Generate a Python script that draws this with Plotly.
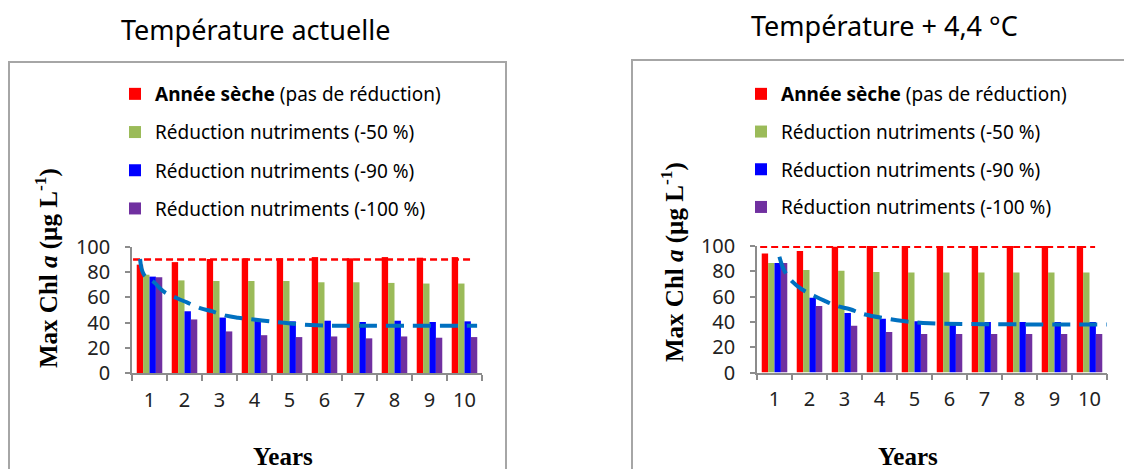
import plotly.graph_objects as go

# ---- data ----
years = [1, 2, 3, 4, 5, 6, 7, 8, 9, 10]
year_labels = ['1', '2', '3', '4', '5', '6', '7', '8', '9', '10']

series_names = ['<b>Année sèche</b> (pas de réduction)',
                'Réduction nutriments (-50 %)',
                'Réduction nutriments (-90 %)',
                'Réduction nutriments (-100 %)']
series_colors = ['#FF0000', '#9BBB59', '#0000FF', '#7030A0']

# Température actuelle
cur_dry = [86, 88, 90.5, 91, 91, 92, 91, 92, 91.5, 92]
cur_r50 = [78, 73.5, 73, 73, 73, 72, 72, 71.5, 71, 71]
cur_r90 = [76.5, 49, 44, 42.5, 41, 41.5, 40.5, 41.5, 40.5, 41]
cur_r100 = [76, 42.5, 33, 30, 28.5, 29, 27.5, 29, 28, 28.5]
cur_ref_x = [0.53, 10.21]
cur_ref_y = [90, 90]
cur_trend_x = [0.73, 0.84, 1.13, 1.41, 1.79, 2.07, 2.47, 2.76, 3.19, 3.53, 4.44, 5.59, 7.0, 10.36]
cur_trend_y = [90.5, 78, 72, 64.5, 59.3, 56, 51.3, 49.2, 45.5, 43.9, 41, 38, 37.5, 37.5]

# Température + 4,4 °C
hot_dry = [94, 96, 99.5, 100, 100, 100, 100, 100, 100, 100]
hot_r50 = [86.5, 81, 80.5, 79.5, 79, 79, 79, 79, 79, 79]
hot_r90 = [86.5, 59, 47, 42.5, 40.5, 40, 40, 40, 40, 40]
hot_r100 = [86.5, 52.5, 37, 32, 30.5, 30.5, 30.5, 30.5, 30.5, 30.5]
hot_ref_x = [0.59, 10.16]
hot_ref_y = [99.5, 99.5]
hot_trend_x = [1.14, 1.28, 1.51, 1.78, 2.14, 2.42, 2.78, 3.16, 3.54, 4.67, 5.44, 7.0, 10.5]
hot_trend_y = [91.5, 80.5, 71.8, 65.8, 60.5, 56.8, 52.6, 50, 46.2, 40.7, 38.9, 38.2, 38]

W, H = 1124, 469


def px(x):
    return x / W


def py(y):
    return (H - y) / H


fig = go.Figure()

panels = [
    dict(vals=[cur_dry, cur_r50, cur_r90, cur_r100], ref=(cur_ref_x, cur_ref_y),
         trend=(cur_trend_x, cur_trend_y), xa='x', ya='y', legend='legend', grp='l'),
    dict(vals=[hot_dry, hot_r50, hot_r90, hot_r100], ref=(hot_ref_x, hot_ref_y),
         trend=(hot_trend_x, hot_trend_y), xa='x2', ya='y2', legend='legend2', grp='r'),
]

for p in panels:
    for i, vals in enumerate(p['vals']):
        fig.add_trace(go.Bar(x=years, y=vals, name=series_names[i],
                             marker=dict(color=series_colors[i], line=dict(width=0)),
                             xaxis=p['xa'], yaxis=p['ya'], legend=p['legend'],
                             legendgroup=p['grp'] + str(i)))
    fig.add_trace(go.Scatter(x=p['ref'][0], y=p['ref'][1], mode='lines',
                             line=dict(color='#FF0000', width=2.5, dash='7px,4px'),
                             xaxis=p['xa'], yaxis=p['ya'], showlegend=False))
    fig.add_trace(go.Scatter(x=p['trend'][0], y=p['trend'][1], mode='lines',
                             line=dict(color='#0070C0', width=4, dash='18px,9px', shape='spline'),
                             xaxis=p['xa'], yaxis=p['ya'], showlegend=False))

tick_font = dict(family='Noto Sans', size=20, color='#222')
axis_col = '#8c8c8c'


def xaxis(domain, anchor):
    return dict(domain=domain, anchor=anchor, range=[0.5, 10.5], tickvals=years, ticktext=year_labels,
                ticks='', showline=True, linecolor=axis_col, linewidth=1.5, showgrid=False,
                zeroline=False, tickfont=tick_font, ticklabelstandoff=8, automargin=False,
                minor=dict(tickvals=[y - 0.5 for y in years] + [10.5], ticks='outside',
                           ticklen=6, tickcolor=axis_col, tickwidth=1.5, showgrid=False))


def yaxis(domain, anchor):
    return dict(domain=domain, anchor=anchor, range=[0, 100], dtick=20, ticks='outside',
                ticklen=5, tickcolor=axis_col, tickwidth=1.5, showline=True, linecolor=axis_col,
                linewidth=1.5, showgrid=False, zeroline=False, tickfont=tick_font,
                ticklabelstandoff=11, automargin=False)


leg_font = dict(family='Noto Sans', size=19, color='black')

title_font = dict(family='Noto Sans', size=27, color='black')
serif_font = dict(family='Liberation Serif', size=25, color='black')


def note(text, x, y, font, angle=0):
    return dict(text=text, x=px(x), y=py(y), xref='paper', yref='paper', xanchor='center',
                yanchor='middle', showarrow=False, textangle=angle, font=font)


fig.update_layout(
    width=W, height=H, margin=dict(l=0, r=0, t=0, b=0),
    paper_bgcolor='white', plot_bgcolor='white',
    barmode='group', bargap=0.27, bargroupgap=0,
    xaxis=xaxis([px(132), px(482)], 'y'),
    yaxis=yaxis([py(373), py(247)], 'x'),
    xaxis2=xaxis([px(757), px(1107)], 'y2'),
    yaxis2=yaxis([py(372.5), py(246)], 'x2'),
    legend=dict(x=px(115), y=py(75), xanchor='left', yanchor='top', font=leg_font,
                bgcolor='rgba(0,0,0,0)', tracegroupgap=10.5, traceorder='grouped'),
    legend2=dict(x=px(741), y=py(75), xanchor='left', yanchor='top', font=leg_font,
                 bgcolor='rgba(0,0,0,0)', tracegroupgap=10, traceorder='grouped'),
    shapes=[
        dict(type='rect', xref='paper', yref='paper', x0=px(9), x1=px(506), y0=-0.1, y1=py(62),
             line=dict(color='#a6a6a6', width=2), layer='below'),
        dict(type='rect', xref='paper', yref='paper', x0=px(632), x1=1.1, y0=-0.1, y1=py(60),
             line=dict(color='#a6a6a6', width=2), layer='below'),
    ],
    annotations=[
        note('Température actuelle', 255, 30, title_font),
        note('Température + 4,4 °C', 884, 26, title_font),
        note('<b>Max Chl <i>a</i> (µg L<sup>-1</sup>)</b>', 46, 268, serif_font, -90),
        note('<b>Max Chl <i>a</i> (µg L<sup>-1</sup>)</b>', 672, 262, serif_font, -90),
        note('<b>Years</b>', 283, 456, serif_font),
        note('<b>Years</b>', 908, 456, serif_font),
    ],
)

# the page body has a default 8px margin; drop it so the figure sits at the window corner
fig.write_html("out.html", config={'displayModeBar': False},
               post_script="document.body.style.margin='0';")
